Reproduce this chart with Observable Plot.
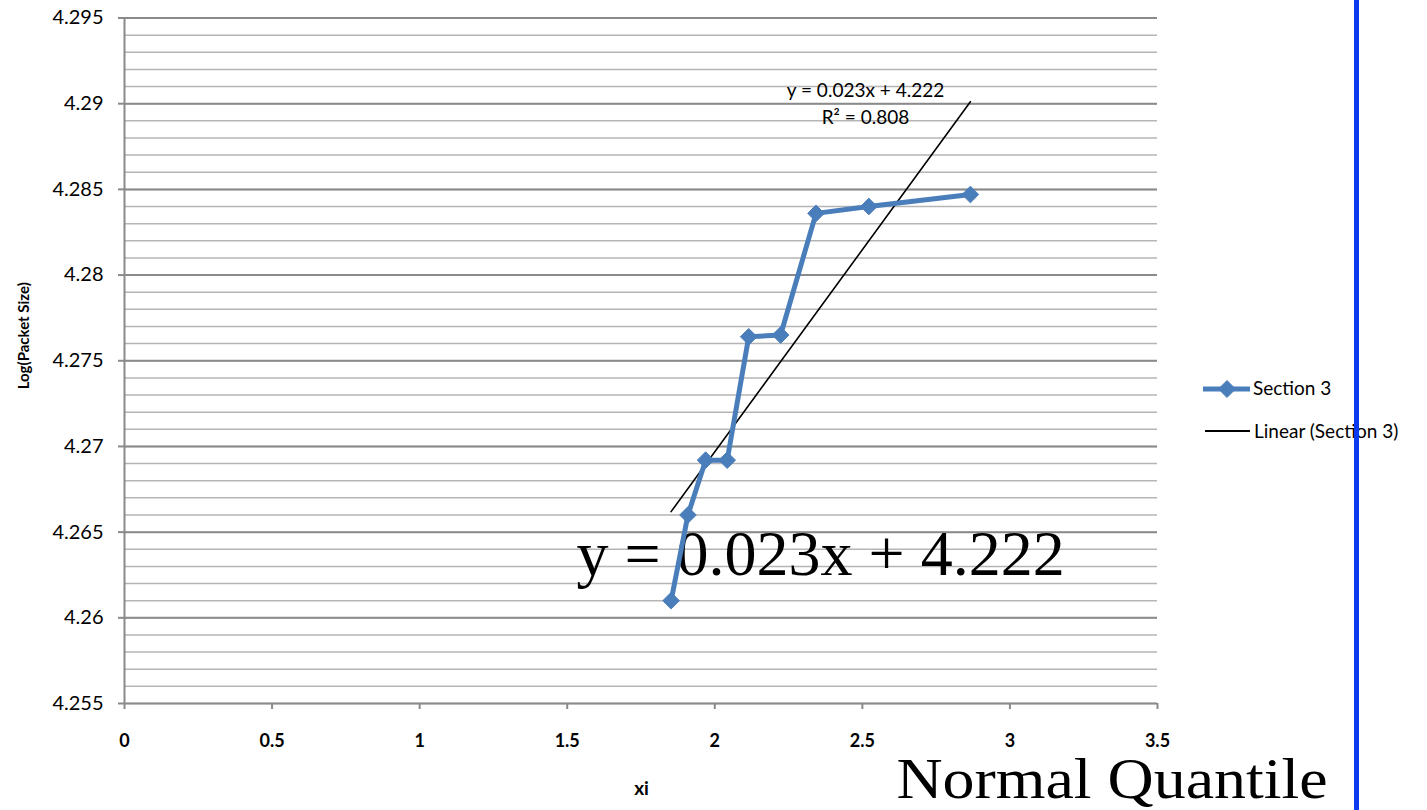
<!DOCTYPE html>
<html>
<head>
<meta charset="utf-8">
<script src="https://cdn.jsdelivr.net/npm/d3@7"></script>
<script src="https://cdn.jsdelivr.net/npm/@observablehq/plot@0.6"></script>
<style>
  html, body { margin: 0; padding: 0; background: #fff; }
  #wrap { position: relative; width: 1427px; height: 810px; overflow: hidden; }
  #bar { position: absolute; left: 1354px; top: 0; width: 5px; height: 810px; background: #0b3bef; }
</style>
</head>
<body>
<div id="wrap"><div id="bar"></div></div>
<script>
// Section 3: normal quantile (xi) against log of packet size
const xi = [1.852, 1.909, 1.969, 2.042, 2.115, 2.223, 2.343, 2.522, 2.866];
const logPacketSize = [4.2610, 4.2660, 4.2692, 4.2692, 4.2764, 4.2765, 4.2836, 4.2840, 4.2847];

const xTicks = [0, 0.5, 1, 1.5, 2, 2.5, 3, 3.5];
const xTickLabels = ["0", "0.5", "1", "1.5", "2", "2.5", "3", "3.5"];
const yTicks = [4.255, 4.26, 4.265, 4.27, 4.275, 4.28, 4.285, 4.29, 4.295];
const yTickLabels = ["4.255", "4.26", "4.265", "4.27", "4.275", "4.28", "4.285", "4.29", "4.295"];

const seriesName = "Section 3";
const trendName = "Linear (Section 3)";
const trendEquation = "y = 0.023x + 4.222";
const trendR2 = "R² = 0.808";
const quantileCaption = "Normal Quantile";

const points = xi.map((x, i) => ({x, y: logPacketSize[i]}));

// minor gridlines every 0.001 between the labelled ticks
const minorGrid = d3.range(4255, 4296).map(v => v / 1000);

const xLabel = new Map(xTicks.map((t, i) => [t, xTickLabels[i]]));
const yLabel = new Map(yTicks.map((t, i) => [t, yTickLabels[i]]));

const blue = "#4a7ebb";
const gridMinor = "#b5b5b5";
const gridMajor = "#8a8a8a";
const sans = "Lato, 'Open Sans', sans-serif";
const serif = "'Liberation Serif', 'Times New Roman', serif";

const chart = Plot.plot({
  width: 1427,
  height: 810,
  marginLeft: 124,
  marginRight: 270,
  marginTop: 17.5,
  marginBottom: 107,
  style: {background: "#fff", fontFamily: sans, color: "#000"},
  x: {domain: [0, 3.5]},
  y: {domain: [4.255, 4.295]},
  marks: [
    Plot.ruleY(minorGrid, {stroke: gridMinor, strokeWidth: 1.5}),
    Plot.ruleY(yTicks, {stroke: gridMajor, strokeWidth: 2}),
    Plot.ruleX([0], {stroke: gridMajor, strokeWidth: 2}),
    Plot.axisY({
      ticks: yTicks, tickSize: 6, tickPadding: 15, stroke: gridMajor, strokeWidth: 2,
      fill: "#000", fontSize: 20, tickFormat: d => yLabel.get(d), label: null
    }),
    Plot.axisX({
      ticks: xTicks, tickSize: 6, tickPadding: 25, stroke: gridMajor, strokeWidth: 2,
      fill: "#000", fontSize: 18, fontWeight: "bold", tickFormat: d => xLabel.get(d), label: null
    }),
    // axis titles
    Plot.text(["Log(Packet Size)"], {
      text: d => d, frameAnchor: "left", rotate: -90, dx: -100, dy: -25,
      textAnchor: "middle", fontSize: 15, fontWeight: "bold"
    }),
    Plot.text(["xi"], {
      text: d => d, frameAnchor: "bottom-left", dx: 517, dy: 91, lineAnchor: "bottom",
      textAnchor: "middle", fontSize: 19, fontWeight: "bold"
    }),
    // large equation and quantile caption
    Plot.text([trendEquation], {
      text: d => d, frameAnchor: "bottom-left", dx: 452, dy: -129, lineAnchor: "bottom",
      textAnchor: "start", fontSize: 64, fontFamily: serif
    }),
    Plot.text([quantileCaption], {
      text: d => d, frameAnchor: "bottom-left", dx: 772, dy: 94, lineAnchor: "bottom",
      textAnchor: "start", fontSize: 58, fontFamily: serif
    }),
    // trendline label
    Plot.text([trendEquation + "\n" + trendR2], {
      text: d => d, frameAnchor: "top-left", dx: 741, dy: 105.5, lineAnchor: "bottom",
      textAnchor: "middle", fontSize: 19, lineHeight: 1.42
    }),
    // least-squares trendline
    Plot.linearRegressionY(points, {x: "x", y: "y", stroke: "#000", strokeWidth: 1.6, ci: 0}),
    // series
    Plot.line(points, {x: "x", y: "y", stroke: blue, strokeWidth: 5, strokeLinejoin: "round"}),
    Plot.dot(points, {x: "x", y: "y", symbol: "diamond2", r: 7.5, fill: blue, stroke: blue, strokeWidth: 1})
  ]
});

document.getElementById("wrap").prepend(chart);

const svg = d3.select(chart);

// the caption is set wide and short, as in the slide it came from
svg.selectAll("text")
  .filter(function () { return this.textContent === quantileCaption; })
  .attr("textLength", 431)
  .attr("lengthAdjust", "spacingAndGlyphs");

// legend on the right
const lg = svg.append("g").attr("font-family", sans).attr("font-size", 19)
  .attr("text-anchor", "start").attr("fill", "#000");
lg.append("line").attr("x1", 1203).attr("x2", 1250).attr("y1", 389).attr("y2", 389)
  .attr("stroke", blue).attr("stroke-width", 5);
lg.append("path").attr("d", d3.symbol(d3.symbolDiamond2, 184)())
  .attr("transform", "translate(1227,389)").attr("fill", blue).attr("stroke", blue);
lg.append("text").attr("x", 1253).attr("y", 395).text(seriesName);
lg.append("line").attr("x1", 1205).attr("x2", 1250).attr("y1", 431).attr("y2", 431)
  .attr("stroke", "#000").attr("stroke-width", 1.8);
lg.append("text").attr("x", 1254).attr("y", 438).text(trendName);
</script>
</body>
</html>
